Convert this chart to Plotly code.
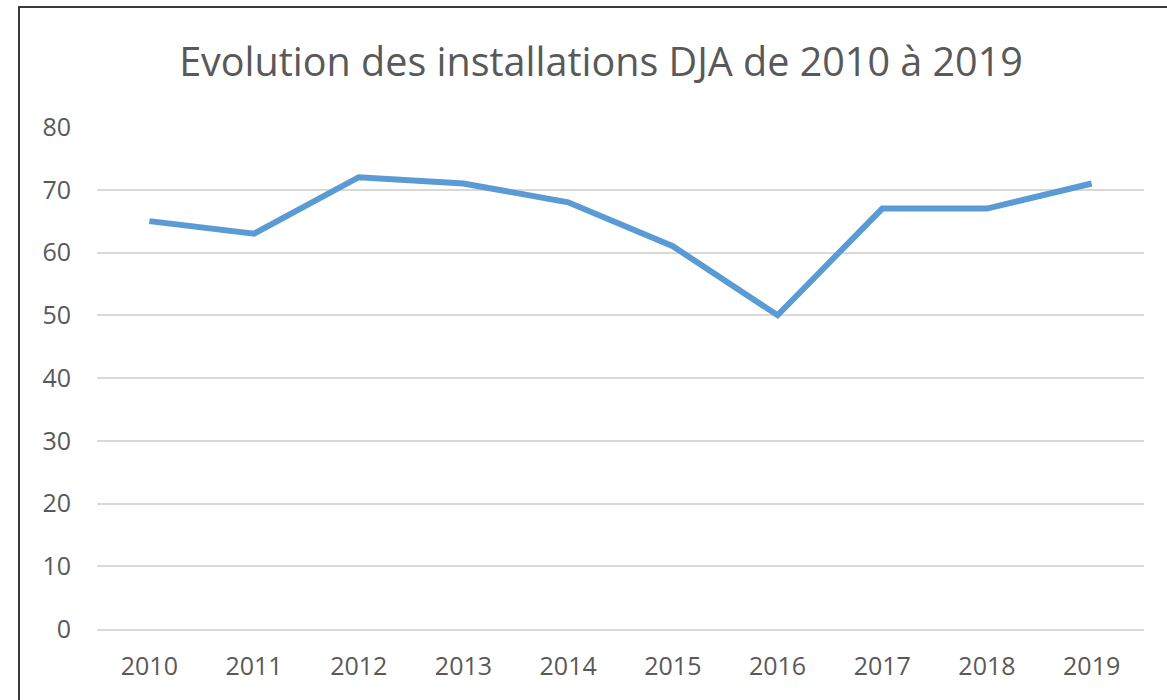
import plotly.graph_objects as go

years = ["2010", "2011", "2012", "2013", "2014", "2015", "2016", "2017", "2018", "2019"]
installations = [65, 63, 72, 71, 68, 61, 50, 67, 67, 71]
y_ticks = [0, 10, 20, 30, 40, 50, 60, 70, 80]
title_text = "Evolution des installations DJA de 2010 à 2019"

W, H = 1167, 700
L, R, T, B = 97, 23, 127, 71
pw = W - L - R
ph = H - T - B

fig = go.Figure()
fig.add_trace(go.Scatter(
    x=years, y=installations, mode="lines",
    line=dict(color="#5B9BD5", width=6, shape="linear"),
    showlegend=False, hoverinfo="x+y",
))

fig.update_layout(
    width=W, height=H,
    margin=dict(l=L, r=R, t=T, b=B, pad=0, autoexpand=False),
    paper_bgcolor="white", plot_bgcolor="white",
    font=dict(family="Open Sans, Lato, sans-serif", color="#595959", size=25),
    title=dict(text=title_text, x=601 / W, xref="container", xanchor="center",
               y=1 - 62 / H, yref="container", yanchor="middle",
               font=dict(size=39.5, color="#595959")),
    xaxis=dict(type="category", range=[-0.5, len(years) - 0.5], automargin=False,
               showgrid=False, showline=True, linecolor="#d9d9d9",
               linewidth=2, ticks="", ticklabelstandoff=14, zeroline=False,
               tickfont=dict(size=25, color="#595959")),
    yaxis=dict(range=[0, 80], tickvals=y_ticks, showgrid=True, gridcolor="#d9d9d9",
               gridwidth=2, zeroline=False, showline=False, ticks="", automargin=False,
               ticklabelstandoff=25, tickfont=dict(size=25, color="#595959")),
)

# outer chart border (frame of the original chart object)
fig.add_shape(type="rect", xref="paper", yref="paper",
              x0=(19 - L) / pw, x1=(W + 20 - L) / pw,
              y0=-(B + 20) / ph, y1=(H - 7 - B) / ph,
              line=dict(color="#3a3a3a", width=2), fillcolor="rgba(0,0,0,0)",
              layer="above")

fig.write_html("out.html", config={"displayModeBar": False},
               post_script="document.body.style.margin='0';document.body.style.overflow='hidden';")
